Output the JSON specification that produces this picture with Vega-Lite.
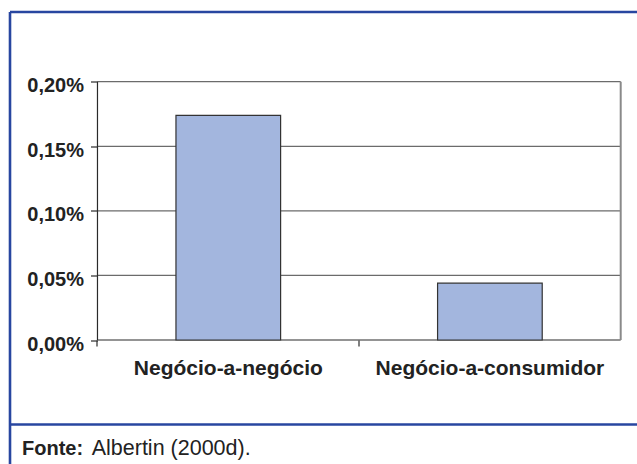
{
  "$schema": "https://vega.github.io/schema/vega-lite/v6.json",
  "background": "white",
  "autosize": {"type": "fit", "contains": "padding"},
  "width": 637,
  "height": 464,
  "padding": {"left": 9.5, "top": 11.5, "right": 0, "bottom": 0},
  "view": {"stroke": null, "fill": "white"},
  "resolve": {"axis": {"x": "independent", "y": "independent"}},
  "layer": [
    {
      "data": {"values": [{"g": 0.05}, {"g": 0.10}, {"g": 0.15}, {"g": 0.20}]},
      "mark": {"type": "rule", "color": "#6b6b6b", "strokeWidth": 1.3},
      "encoding": {
        "x": {
          "datum": "Negócio-a-negócio", "type": "nominal", "bandPosition": 0,
          "axis": {"orient": "top", "domain": true, "domainColor": "#2846A0", "domainWidth": 2.6,
                   "labels": false, "ticks": false, "grid": false, "title": null}
        },
        "x2": {"datum": "Negócio-a-consumidor", "bandPosition": 1},
        "y": {
          "field": "g", "type": "quantitative",
          "axis": {"orient": "left", "domain": true, "domainColor": "#2846A0", "domainWidth": 2.6,
                   "labels": false, "ticks": false, "grid": false, "title": null}
        }
      }
    },
    {
      "data": {"values": [{"g": 0}]},
      "mark": {"type": "rule", "color": "#2a2a2a", "strokeWidth": 1.2},
      "encoding": {
        "x": {
          "datum": "Negócio-a-negócio", "type": "nominal", "bandPosition": 0,
          "axis": {"orient": "bottom", "offset": -40, "domain": true, "domainColor": "#2846A0", "domainWidth": 2.6,
                   "labels": false, "ticks": false, "grid": false, "title": null}
        },
        "x2": {"datum": "Negócio-a-consumidor", "bandPosition": 1},
        "y": {"field": "g", "type": "quantitative", "axis": null}
      }
    },
    {
      "data": {"values": [{"lo": 0, "hi": 0.2}]},
      "mark": {"type": "rule", "color": "#8a8a8a", "strokeWidth": 2},
      "encoding": {
        "x": {"datum": "Negócio-a-consumidor", "type": "nominal", "bandPosition": 1, "axis": null},
        "y": {"field": "lo", "type": "quantitative", "axis": null},
        "y2": {"field": "hi"}
      }
    },
    {
      "data": {"values": [{"lo": 0, "hi": 0.2}]},
      "mark": {"type": "rule", "color": "#2a2a2a", "strokeWidth": 1.2},
      "encoding": {
        "x": {
          "datum": "Negócio-a-negócio", "type": "nominal", "bandPosition": 0,
          "axis": {
            "orient": "bottom", "offset": -124, "bandPosition": 0,
            "labels": false, "domain": false, "grid": false,
            "ticks": true, "tickSize": 6, "tickColor": "#2a2a2a", "tickWidth": 1.2,
            "title": null
          }
        },
        "y": {"field": "lo", "type": "quantitative", "axis": null},
        "y2": {"field": "hi"}
      }
    },
    {
      "data": {"values": [
        {"categoria": "Negócio-a-negócio", "valor": 0.174},
        {"categoria": "Negócio-a-consumidor", "valor": 0.044}
      ]},
      "mark": {"type": "bar", "fill": "#A3B6DE", "stroke": "#333333", "strokeWidth": 1.2, "width": {"band": 0.4}},
      "encoding": {
        "x": {
          "field": "categoria", "type": "nominal", "sort": null,
          "scale": {
            "domain": ["Negócio-a-negócio", "Negócio-a-consumidor"],
            "paddingInner": 0, "paddingOuter": 0.1993, "align": 0.8437
          },
          "axis": {
            "orient": "bottom", "offset": -124, "ticks": false, "domain": false, "grid": false,
            "labelAngle": 0, "labelFont": "Liberation Sans", "labelFontWeight": "bold",
            "labelFontSize": 21, "labelColor": "#222222", "labelPadding": 17, "labelLimit": 0, "title": null
          }
        },
        "y": {
          "field": "valor", "type": "quantitative",
          "scale": {"domain": [-0.09601, 0.25436], "nice": false, "zero": false},
          "axis": {
            "orient": "left", "offset": -88, "values": [0, 0.05, 0.10, 0.15, 0.20],
            "labelExpr": "replace(format(datum.value, '.2f'), '.', ',') + '%'",
            "domain": false, "grid": false, "ticks": true, "tickSize": 7,
            "tickColor": "#2a2a2a", "tickWidth": 1.2,
            "labelFont": "Liberation Sans", "labelFontWeight": "bold", "labelFontSize": 20,
            "labelColor": "#222222", "labelPadding": 7, "labelOffset": 4, "title": null
          }
        }
      }
    },
    {
      "data": {"values": [{"rotulo": "Fonte:", "texto": "Albertin (2000d)."}]},
      "layer": [
        {
          "mark": {"type": "text", "align": "left", "baseline": "alphabetic", "dy": -9,
                   "font": "Liberation Sans", "fontWeight": "bold", "fontSize": 20, "color": "#222222"},
          "encoding": {"text": {"field": "rotulo"}, "x": {"value": 12.5}, "y": {"value": "height"}}
        },
        {
          "mark": {"type": "text", "align": "left", "baseline": "alphabetic", "dy": -9,
                   "font": "Liberation Sans", "fontSize": 21.5, "color": "#222222"},
          "encoding": {"text": {"field": "texto"}, "x": {"value": 82.2}, "y": {"value": "height"}}
        }
      ]
    }
  ]
}
